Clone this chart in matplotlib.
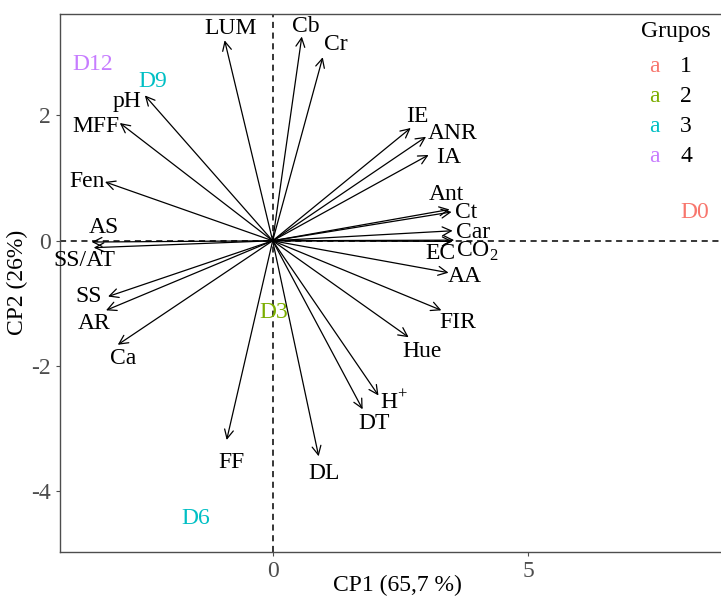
import matplotlib
matplotlib.use("Agg")
import matplotlib.pyplot as plt

plt.rcParams["font.family"] = ["Liberation Serif", "DejaVu Serif"]
plt.rcParams["mathtext.fontset"] = "custom"
plt.rcParams["mathtext.rm"] = "Liberation Serif"
plt.rcParams["axes.unicode_minus"] = False

# variable loadings (CP1, CP2)
var_names = ["LUM", "Cb", "Cr", "pH", "MFF", "Fen", "AS", "SS/AT", "SS", "AR",
             "Ca", "FF", "DL", "DT", r"H$^{+}$", "Hue", "FIR", "AA", "IE", "ANR",
             "IA", "Ant", "Ct", "Car", r"CO$_{2}$", "EC"]
var_cp1 = [-0.94, 0.57, 0.98, -2.50, -2.99, -3.28, -3.54, -3.50, -3.22, -3.26,
           -3.03, -0.90, 0.90, 1.76, 2.07, 2.66, 3.30, 3.44, 2.70, 3.00,
           3.05, 3.46, 3.50, 3.52, 3.55, 3.52]
var_cp2 = [3.20, 3.26, 2.93, 2.32, 1.88, 0.94, -0.02, -0.11, -0.89, -1.11,
           -1.66, -3.18, -3.44, -2.69, -2.47, -1.54, -1.11, -0.51, 1.80, 1.66,
           1.37, 0.50, 0.46, 0.16, 0.01, -0.01]

# sample scores
samples = ["D0", "D3", "D6", "D9", "D12"]
sample_cp1 = [8.26, 0.02, -1.50, -2.34, -3.52]
sample_cp2 = [0.45, -1.15, -4.43, 2.55, 2.82]
sample_group = [1, 2, 3, 3, 4]

groups = [1, 2, 3, 4]
group_colors = {1: "#F8766D", 2: "#7CAE00", 3: "#00BFC4", 4: "#C77CFF"}

# label offsets from arrow tips (pixels)
label_offsets = [(6, 12), (4, 10), (13, 13), (-18, -6), (-24, -3), (-18, 0),
                 (12, 15), (-9, -13), (-19, 0), (-12, -13), (5, -14), (5, -23),
                 (5, -17), (11, -14), (15, -7), (13, -14), (16, -12), (16, -4),
                 (7, 12), (27, 3), (20, -3), (-3, 15), (15, -1), (20, -2),
                 (23, -11), (-12, -12)]

FS = 17

fig = plt.figure(figsize=(7.21, 6.01), dpi=100)
ax = fig.add_axes([60 / 721, 1 - 551.5 / 601, 1 - 60 / 721, (551.5 - 14) / 601])

ax.set_xlim(-4.16, 8.77)
ax.set_ylim(-4.96, 3.62)

ax.axhline(0, color="black", lw=1.1, ls=(0, (4, 3)), zorder=1)
ax.axvline(0, color="black", lw=1.1, ls=(0, (4, 3)), zorder=1)

for name, x, y, off in zip(var_names, var_cp1, var_cp2, label_offsets):
    ax.annotate("", xy=(x, y), xytext=(0, 0),
                arrowprops=dict(arrowstyle="->", color="black", lw=0.9,
                                shrinkA=0, shrinkB=0, mutation_scale=16))
    ax.annotate(name, xy=(x, y), xytext=off, textcoords="offset pixels",
                ha="center", va="center", fontsize=FS, color="black")

for s, x, y, g in zip(samples, sample_cp1, sample_cp2, sample_group):
    ax.text(x, y, s, ha="center", va="center", fontsize=FS,
            color=group_colors[g])

ax.set_xticks([0, 5])
ax.set_yticks([-4, -2, 0, 2])
ax.tick_params(colors="#4D4D4D", labelsize=FS, length=3, width=0.8)
for side in ["left", "bottom", "top"]:
    ax.spines[side].set_color("#4D4D4D")
    ax.spines[side].set_linewidth(1.0)
ax.spines["right"].set_visible(False)

ax.set_xlabel("CP1 (65,7 %)", fontsize=FS, va="center")
ax.xaxis.set_label_coords(0.51, -0.063)
ax.set_ylabel("CP2 (26%)", fontsize=FS, va="center")
ax.yaxis.set_label_coords(-0.064, 0.5)

# legend
fig.text(676 / 721, 1 - 32 / 601, "Grupos", ha="center", va="center",
         fontsize=FS)
for i, g in enumerate(groups):
    yy = 1 - (67 + 30 * i) / 601
    fig.text(654 / 721, yy, "a", ha="center", va="center", fontsize=FS,
             color=group_colors[g])
    fig.text(686 / 721, yy, str(g), ha="center", va="center", fontsize=FS)

fig.savefig("out.png", dpi=100)
